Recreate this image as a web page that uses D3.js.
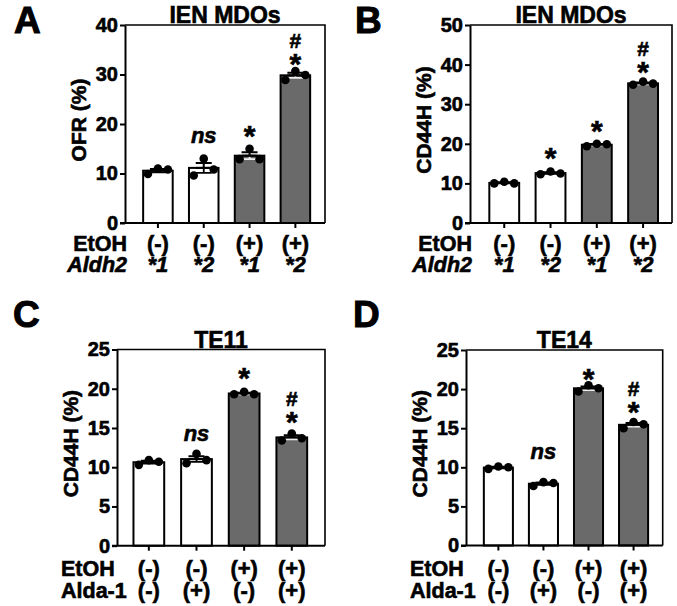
<!DOCTYPE html>
<html><head><meta charset="utf-8">
<script src="https://cdn.jsdelivr.net/npm/d3@7"></script>
<style>
body{margin:0;background:#fff}
text{font-family:"Liberation Sans",Arial,Helvetica,sans-serif;font-weight:bold;fill:#000;stroke:#000;stroke-width:0.6px;paint-order:stroke}
</style>
</head><body>
<svg id="chart" width="677" height="606"></svg>
<script>
// ---- data ----
const groups = ["g1", "g2", "g3", "g4"];
const barFilled = [false, false, true, true];
const etohRow = ["(-)", "(-)", "(+)", "(+)"];
const aldh2Row = ["*1", "*2", "*1", "*2"];
const aldaRow = ["(-)", "(+)", "(-)", "(+)"];

const ofrA  = [[9.9, 11.0, 10.8], [9.6, 13.0, 10.8], [12.9, 15.0, 12.9], [28.9, 30.7, 29.9]];
const cd44B = [[10.0, 10.4, 10.0], [12.3, 13.0, 12.5], [19.4, 20.0, 19.9], [34.9, 35.7, 35.2]];
const cd44C = [[10.3, 10.9, 10.7], [10.5, 11.7, 10.9], [19.3, 19.6, 19.3], [13.4, 14.3, 13.7]];
const cd44D = [[9.8, 10.1, 10.0], [7.6, 8.1, 8.0], [19.7, 20.5, 20.1], [15.0, 15.8, 15.5]];

const ticksA = [0, 10, 20, 30, 40];
const ticksB = [0, 10, 20, 30, 40, 50];
const ticksCD = [0, 5, 10, 15, 20, 25];

const marksA = ["", "ns", "*", "#*"];
const marksB = ["", "*", "*", "#*"];
const marksC = ["", "ns", "*", "#*"];
const marksD = ["", "ns", "*", "#*"];
const markLevelA = [0, 16.2, 17.8, 32.5];
const markLevelB = [0, 16.7, 23.5, 38.6];
const markLevelC = [0, 13.4, 21.5, 16.0];
const markLevelD = [0, 11.0, 21.5, 17.3];

// ---- layout ----
const panels = [
  {letter: "A", lx: 14, ly: 33, title: "IEN MDOs", ylabel: "OFR (%)", values: ofrA, ticks: ticksA,
   marks: marksA, levels: markLevelA, rect: [125, 325, 25, 223], align: 0.55,
   rows: [{name: "EtOH", italic: false, vals: etohRow, valItalic: false}, {name: "Aldh2", italic: true, vals: aldh2Row, valItalic: true}],
   rowAnchor: "end", rowOff: [28, 49]},
  {letter: "B", lx: 355, ly: 33, title: "IEN MDOs", ylabel: "CD44H (%)", values: cd44B, ticks: ticksB,
   marks: marksB, levels: markLevelB, rect: [470, 672, 25, 223], align: 0.58,
   rows: [{name: "EtOH", italic: false, vals: etohRow, valItalic: false}, {name: "Aldh2", italic: true, vals: aldh2Row, valItalic: true}],
   rowAnchor: "end", rowOff: [28, 49]},
  {letter: "C", lx: 13, ly: 327, title: "TE11", ylabel: "CD44H (%)", values: cd44C, ticks: ticksCD,
   marks: marksC, levels: markLevelC, rect: [117, 325, 349.5, 545.7], align: 0.48,
   rows: [{name: "EtOH", italic: false, vals: etohRow, valItalic: false}, {name: "Alda-1", italic: false, vals: aldaRow, valItalic: false}],
   rowAnchor: "start", rowOff: [30, 52]},
  {letter: "D", lx: 353, ly: 327, title: "TE14", ylabel: "CD44H (%)", values: cd44D, ticks: ticksCD,
   marks: marksD, levels: markLevelD, rect: [466, 662.7, 350, 545.5], align: 0.55,
   rows: [{name: "EtOH", italic: false, vals: etohRow, valItalic: false}, {name: "Alda-1", italic: false, vals: aldaRow, valItalic: false}],
   rowAnchor: "start", rowOff: [30, 52]}
];

const svg = d3.select("#chart");
const GREY = "#6a6a6a";

function drawPanel(p) {
  const [x0, x1, y0, y1] = p.rect;
  const g = svg.append("g");
  const x = d3.scaleBand().domain(groups).range([x0, x1])
    .paddingInner(0.355).paddingOuter(0.36).align(p.align);
  const y = d3.scaleLinear().domain([0, d3.max(p.ticks)]).range([y1, y0]);

  // letter
  g.append("text").attr("x", p.lx).attr("y", p.ly).attr("font-size", 37)
    .style("stroke-width", "1px").text(p.letter);
  // title
  g.append("text").attr("x", (x0 + x1) / 2).attr("y", y0 - 2).attr("text-anchor", "middle")
    .attr("font-size", 23).text(p.title);

  // frame top & right
  g.append("path").attr("d", `M${x0},${y0}H${x1}V${y1}`).attr("fill", "none")
    .attr("stroke", "#000").attr("stroke-width", 1.6);

  const stats = p.values.map(v => {
    const m = d3.mean(v);
    const sem = d3.deviation(v) / Math.sqrt(v.length);
    return {m, sem};
  });

  // bars
  g.selectAll("rect.bar").data(groups).join("rect")
    .attr("x", d => x(d)).attr("width", x.bandwidth())
    .attr("y", (d, i) => y(stats[i].m)).attr("height", (d, i) => y(0) - y(stats[i].m))
    .attr("fill", (d, i) => barFilled[i] ? GREY : "#fff")
    .attr("stroke", "#000").attr("stroke-width", 2);

  // error bars
  const capW = 8;
  groups.forEach((d, i) => {
    const cx = x(d) + x.bandwidth() / 2;
    const {m, sem} = stats[i];
    const lowCol = barFilled[i] ? "#eee" : "#000";
    g.append("path").attr("d", `M${cx},${y(m)}V${y(m + sem)}M${cx - capW},${y(m + sem)}H${cx + capW}`)
      .attr("stroke", "#000").attr("stroke-width", 2).attr("fill", "none");
    g.append("path").attr("d", `M${cx},${y(m) + 1}V${y(m - sem)}M${cx - capW},${y(m - sem)}H${cx + capW}`)
      .attr("stroke", lowCol).attr("stroke-width", 1.8).attr("fill", "none");
    g.append("path").attr("d", `M${cx - capW},${y(m)}H${cx + capW}`)
      .attr("stroke", "#000").attr("stroke-width", 2);
  });

  // points
  groups.forEach((d, i) => {
    const cx = x(d) + x.bandwidth() / 2;
    g.selectAll(null).data(p.values[i]).join("circle")
      .attr("cx", (v, j) => cx + (j - 1) * 10).attr("cy", v => y(v)).attr("r", 4.3)
      .attr("fill", "#000");
  });

  // axes
  const ya = d3.axisLeft(y).tickValues(p.ticks).tickSize(5).tickSizeOuter(0).tickPadding(2);
  const yg = g.append("g").attr("transform", `translate(${x0},0)`).call(ya);
  yg.select(".domain").attr("stroke-width", 2);
  yg.selectAll(".tick line").attr("stroke-width", 2);
  yg.selectAll(".tick text").attr("font-size", 20).attr("font-family", null).attr("font-weight", null);

  const xa = d3.axisBottom(x).tickSize(5).tickSizeOuter(0).tickFormat("");
  const xg = g.append("g").attr("transform", `translate(0,${y1})`).call(xa);
  xg.select(".domain").attr("stroke-width", 2).attr("d", `M${x0 - 5},0H${x1}`);
  xg.selectAll(".tick line").attr("stroke-width", 2);

  // y label
  g.append("text").attr("transform", `translate(${x0 - 46},${(y0 + y1) / 2 - 4}) rotate(-90)`)
    .attr("text-anchor", "middle").attr("dy", "0.35em").attr("font-size", 21).text(p.ylabel);

  // row labels
  p.rows.forEach((r, k) => {
    const by = y1 + p.rowOff[k];
    g.append("text").attr("x", p.rowAnchor === "end" ? x0 + 2 : x0 - 56).attr("y", by)
      .attr("text-anchor", p.rowAnchor).attr("font-size", 21.5)
      .attr("font-style", r.italic ? "italic" : "normal").text(r.name);
    groups.forEach((d, i) => {
      g.append("text").attr("x", x(d) + x.bandwidth() / 2).attr("y", by)
        .attr("text-anchor", "middle").attr("font-size", 22)
        .attr("font-style", r.valItalic ? "italic" : "normal").text(r.vals[i]);
    });
  });

  // significance marks
  groups.forEach((d, i) => {
    const mk = p.marks[i];
    if (!mk) return;
    const cx = x(d) + x.bandwidth() / 2;
    const ly = y(p.levels[i]);
    if (mk === "ns") {
      g.append("text").attr("x", cx).attr("y", ly).attr("text-anchor", "middle")
        .attr("font-size", 22).attr("font-style", "italic").text("ns");
    } else {
      g.append("text").attr("x", cx).attr("y", ly + 11.5).attr("text-anchor", "middle")
        .attr("font-size", 30).text("*");
      if (mk === "#*") {
        g.append("text").attr("x", cx).attr("y", ly - 14).attr("text-anchor", "middle")
          .attr("font-size", 21).text("#");
      }
    }
  });
}

panels.forEach(drawPanel);
</script>
</body></html>
